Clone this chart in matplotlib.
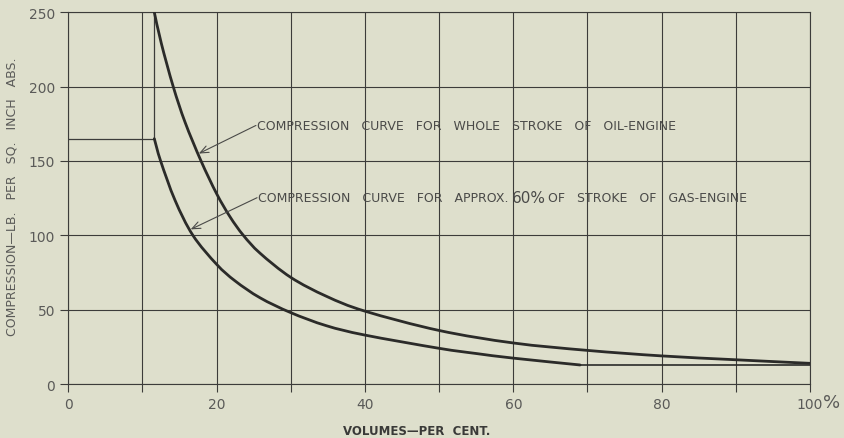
import matplotlib
matplotlib.use("Agg")
import matplotlib.pyplot as plt
from matplotlib.path import Path
from matplotlib.patches import PathPatch

# ---- data ----
oil_x = [11.6, 12.55, 14.15, 15.75, 17.9, 20.0, 21.8, 23.6, 25.85, 30.0, 34.8, 40.0, 50.0, 60.0, 70.0, 80.0, 90.0, 100.0]
oil_y = [250, 229, 200, 176, 150, 128, 112.5, 100, 88, 71.7, 59.0, 49.0, 36.0, 27.6, 22.6, 18.9, 16.3, 13.9]

gas_x = [11.6, 12.45, 14.4, 16.8, 20.0, 22.5, 25.85, 30.0, 34.8, 40.0, 50.0, 55.0, 60.0, 69.0]
gas_y = [165, 150, 123.5, 100, 80.5, 69.3, 58.0, 48.0, 39.2, 32.9, 24.0, 20.5, 17.4, 12.8]

# constant-pressure / constant-volume segments
admit_x = [0, 11.6, 11.6]
admit_y = [165, 165, 250]
atm_x = [69.0, 100.0]
atm_y = [13.0, 13.0]

x_ticks = [0, 10, 20, 30, 40, 50, 60, 70, 80, 90, 100]
x_tick_labels = ["0", "", "20", "", "40", "", "60", "", "80", "", "100"]
y_ticks = [0, 50, 100, 150, 200, 250]
y_tick_labels = ["0", "50", "100", "150", "200", "250"]

label_oil = "COMPRESSION   CURVE   FOR   WHOLE   STROKE   OF   OIL-ENGINE"
label_gas_a = "COMPRESSION   CURVE   FOR   APPROX."
label_gas_b = "60%"
label_gas_c = "OF   STROKE   OF   GAS-ENGINE"

BG = "#dedfcc"
GRID = "#3c3c3a"
CURVE = "#2b2b29"
TXT = "#4a4a48"


def smooth_curve(ax, xs, ys, **kw):
    """Draw a smooth (Catmull-Rom as cubic Bezier) curve through the read points."""
    pts = list(zip(xs, ys))
    n = len(pts)
    verts = [pts[0]]
    codes = [Path.MOVETO]
    for i in range(n - 1):
        p0 = pts[i - 1] if i > 0 else pts[i]
        p1 = pts[i]
        p2 = pts[i + 1]
        p3 = pts[i + 2] if i + 2 < n else pts[i + 1]
        c1 = (p1[0] + (p2[0] - p0[0]) / 6.0, p1[1] + (p2[1] - p0[1]) / 6.0)
        c2 = (p2[0] - (p3[0] - p1[0]) / 6.0, p2[1] - (p3[1] - p1[1]) / 6.0)
        verts += [c1, c2, p2]
        codes += [Path.CURVE4] * 3
    patch = PathPatch(Path(verts, codes), fill=False, transform=ax.transData, **kw)
    ax.add_patch(patch)
    return patch


fig = plt.figure(figsize=(8.45, 4.39), dpi=100, facecolor=BG)
ax = fig.add_axes([0.0808, 0.123, 0.9586 - 0.0808, 0.9697 - 0.123])
ax.set_facecolor(BG)

ax.set_xlim(0, 100)
ax.set_ylim(0, 250)
ax.set_xticks(x_ticks)
ax.set_xticklabels(x_tick_labels)
ax.set_yticks(y_ticks)
ax.set_yticklabels(y_tick_labels)
ax.tick_params(direction="out", length=5.8, width=0.8, color=GRID,
               labelsize=10, labelcolor="#5a5a58", pad=3.6)
ax.grid(True, color=GRID, lw=0.8)
for s in ax.spines.values():
    s.set_color(GRID)
    s.set_linewidth(0.8)

smooth_curve(ax, oil_x, oil_y, edgecolor=CURVE, lw=2.0, capstyle="round", zorder=3)
smooth_curve(ax, gas_x, gas_y, edgecolor=CURVE, lw=2.0, capstyle="round", zorder=3)
ax.plot(admit_x, admit_y, color=GRID, lw=0.9, zorder=2)
ax.plot(atm_x, atm_y, color=CURVE, lw=1.2, zorder=2)

ax.annotate("%", xy=(100, 0), xycoords="data", xytext=(13, -18),
            textcoords="offset pixels", ha="left", va="center",
            fontsize=13, color="#5a5a58", annotation_clip=False)

arrow = dict(arrowstyle="->,head_length=0.6,head_width=0.25", lw=0.8,
             color=TXT, shrinkA=0, shrinkB=0)

# oil-engine label with leader
ax.text(25.4, 173.9, label_oil, ha="left", va="center", fontsize=9, color=TXT)
ax.annotate("", xy=(17.6, 155), xytext=(25.3, 173.9), arrowprops=arrow)

# gas-engine label with leader
t1 = ax.text(25.55, 125.3, label_gas_a, ha="left", va="center", fontsize=9, color=TXT)
ax.annotate("", xy=(16.5, 104), xytext=(25.45, 125.3), arrowprops=arrow)
t2 = ax.annotate(label_gas_b, xy=(1, 0.5), xycoords=t1, xytext=(4, 0),
                 textcoords="offset pixels", ha="left", va="center",
                 fontsize=11, color=TXT)
ax.annotate(label_gas_c, xy=(1, 0.5), xycoords=t2, xytext=(2, 0),
            textcoords="offset pixels", ha="left", va="center",
            fontsize=9, color=TXT)

fig.text(12 / 845, 1 - 197 / 439, "COMPRESSION—LB.   PER   SQ.   INCH   ABS.",
         rotation=90, ha="center", va="center", fontsize=9, color="#5a5a58")
fig.text(417 / 845, 1 - 432 / 439, "VOLUMES—PER  CENT.", ha="center",
         va="center", fontsize=8.5, fontweight="bold", color="#3a3a38")

fig.savefig("out.png", dpi=100, facecolor=BG)
